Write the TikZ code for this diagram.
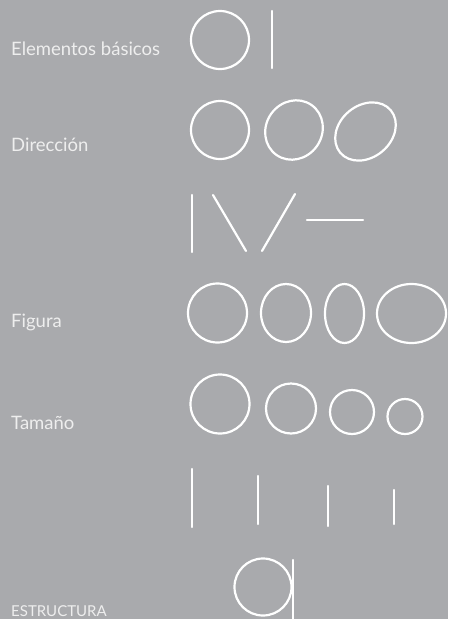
\documentclass[tikz,border=0pt]{standalone}
\usepackage{fontspec}
\setmainfont{Lato}
\usepackage{tikz}
\usepackage{xcolor}
\usetikzlibrary{positioning, calc}
\definecolor{Panel_Gray}{HTML}{A9AAAD}
\definecolor{Soft_White}{HTML}{EEEEEE}

\tikzset{
  label/.style={anchor=base west, inner sep=0pt, text=Soft_White, font=\fontsize{18.5}{22}\selectfont},
  stroke/.style={draw=white, line width=2.2pt, line cap=round}
}

\begin{document}
\begin{tikzpicture}[x=1pt, y=-1pt]
% --- panel ---
\fill[Panel_Gray] (0,0) rectangle (448,619);
\useasboundingbox (0,0) rectangle (448,619);

% --- labels ---
\node[label] (basicos) at (11,55) {Elementos básicos};
\node[label] (direccion) at (11,151) {Dirección};
\node[label] (figura) at (11,327) {Figura};
\node[label] (tamano) at (11,429) {Tamaño};
\node[label, font=\fontsize{15}{18}\selectfont] (estructura) at (11,616) {ESTRUCTURA};

% --- elementos basicos ---
\draw[stroke] (220,40) circle (29);
\draw[stroke] (272,11) -- (272,68);

% --- direccion ---
\draw[stroke] (220,130) circle (29);
\draw[stroke, rotate around={-35:(294,130)}] (294,130) ellipse (28 and 30.5);
\draw[stroke, rotate around={-50:(365.5,131.5)}] (365.5,131.5) ellipse (26 and 33);
\draw[stroke] (192,195) -- (192,252);
\draw[stroke] (213,195) -- (246,251);
\draw[stroke] (295,194) -- (262,251);
\draw[stroke] (307,220) -- (363,220);

% --- figura ---
\draw[stroke] (217.5,313) circle (29.5);
\draw[stroke] (286,313) ellipse (25 and 29);
\draw[stroke] (344.5,313.5) ellipse (19.5 and 29.5);
\draw[stroke] (411.5,313.5) ellipse (34.5 and 29.5);

% --- tamano ---
\draw[stroke] (220,404) circle (29.5);
\draw[stroke] (291,408.5) circle (25);
\draw[stroke] (352,412) circle (22);
\draw[stroke] (405,416.5) circle (17.5);
\draw[stroke] (192,469) -- (192,527);
\draw[stroke] (258,476) -- (258,524);
\draw[stroke] (328,486) -- (328,526);
\draw[stroke] (394,490) -- (394,524);

% --- estructura ---
\draw[stroke] (263,587) circle (28.5);
\draw[stroke] (293,560) -- (293,622);
\end{tikzpicture}
\end{document}
